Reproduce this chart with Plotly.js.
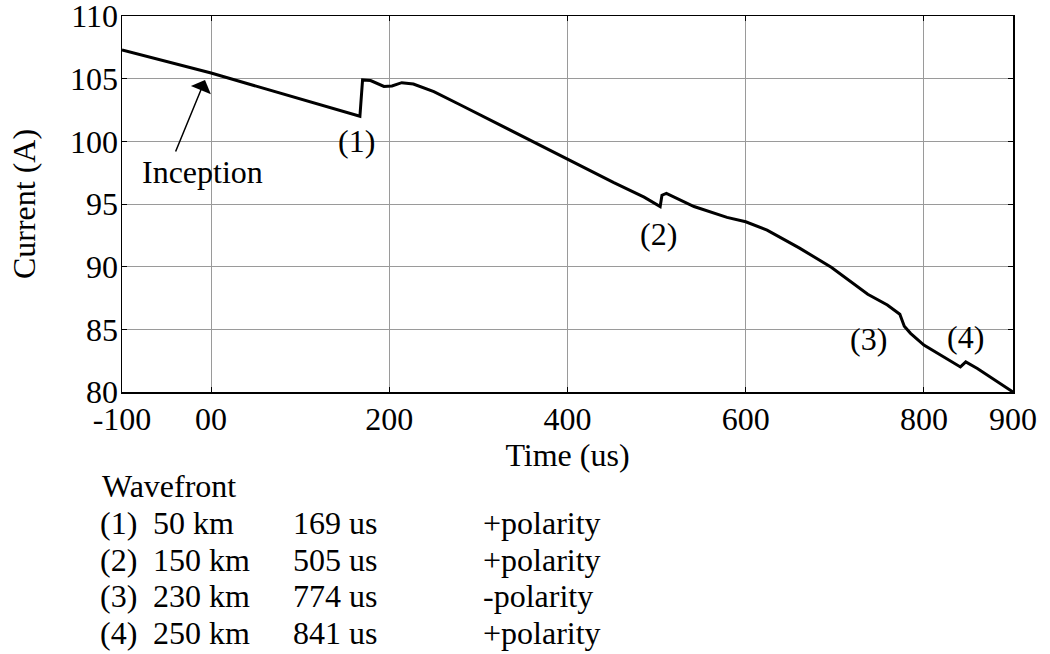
<!DOCTYPE html>
<html>
<head>
<meta charset="utf-8">
<script src="https://cdn.plot.ly/plotly-3.0.1.min.js"></script>
<style>html,body{margin:0;padding:0;background:#fff;}#chart{width:1050px;height:654px;}</style>
</head>
<body>
<div id="chart"></div>
<script>
// Current waveform
const timeUs = [-100, 0, 167, 170, 179, 194, 203, 214, 227, 250, 280, 403, 452, 486, 504, 506, 511, 542, 579, 600, 624, 660, 696, 737, 759, 773, 775, 778, 785, 800, 841, 847, 860, 900];
const currentA = [107.3, 105.45, 102.0, 104.9, 104.85, 104.38, 104.42, 104.68, 104.57, 103.96, 102.9, 98.45, 96.7, 95.55, 94.8, 95.7, 95.85, 94.8, 93.93, 93.58, 92.92, 91.5, 89.95, 87.8, 86.94, 86.2, 85.8, 85.25, 84.68, 83.74, 82.0, 82.4, 81.88, 80.0];

// Axis ticks
const xTickVals = [-100, 0, 200, 400, 600, 800, 900];
const xTickText = ['-100', '00', '200', '400', '600', '800', '900'];
const yTickVals = [80, 85, 90, 95, 100, 105, 110];
const yTickText = ['80', '85', '90', '95', '100', '105', '110'];

// Wavefront table
const wfLabels = ['(1)', '(2)', '(3)', '(4)'];
const wfDistance = ['50 km', '150 km', '230 km', '250 km'];
const wfTime = ['169 us', '505 us', '774 us', '841 us'];
const wfPolarity = ['+polarity', '+polarity', '-polarity', '+polarity'];

// Markers on the curve
const markerText = ['(1)', '(2)', '(3)', '(4)'];
const markerX = [163.7, 501.6, 737.3, 847.2];
const markerY = [100.0, 92.57, 84.19, 84.35];

const FONT = '"Liberation Serif", "Times New Roman", Times, serif';
const FS = 32;

// layout geometry
const W = 1050, H = 654;
const mL = 122, mR = 37, mT = 16, mB = 262;
const pw = W - mL - mR, ph = H - mT - mB;
function px2paperX(px) { return (px - mL) / pw; }
function px2paperY(py) { return (H - mB - py) / ph; }

const annotations = [];
markerText.forEach((t, i) => {
  annotations.push({x: markerX[i], y: markerY[i], xref: 'x', yref: 'y', text: t, showarrow: false,
    xanchor: 'center', yanchor: 'middle', font: {family: FONT, size: FS, color: '#000'}});
});
annotations.push({x: -9.1, y: 97.59, xref: 'x', yref: 'y', text: 'Inception', showarrow: false,
  xanchor: 'center', yanchor: 'middle', font: {family: FONT, size: FS, color: '#000'}});
annotations.push({x: -6.85, y: 104.89, xref: 'x', yref: 'y', ax: -40.5, ay: 99.07, axref: 'x', ayref: 'y',
  text: '', showarrow: true, arrowhead: 1, arrowsize: 2.4, arrowwidth: 1.5, arrowcolor: '#000'});

// table
const rowBase = [534, 571, 607, 644];
const colX = [100, 153, 293, 483];
annotations.push({x: px2paperX(102 - 2), y: px2paperY(497 - 11), xref: 'paper', yref: 'paper', text: 'Wavefront',
  showarrow: false, xanchor: 'left', yanchor: 'middle', font: {family: FONT, size: FS, color: '#000'}});
const cols = [wfLabels, wfDistance, wfTime, wfPolarity];
cols.forEach((col, c) => {
  col.forEach((t, r) => {
    annotations.push({x: px2paperX(colX[c] - 2), y: px2paperY(rowBase[r] - 11), xref: 'paper', yref: 'paper', text: t,
      showarrow: false, xanchor: 'left', yanchor: 'middle', font: {family: FONT, size: FS, color: '#000'}});
  });
});

const trace = {x: timeUs, y: currentA, type: 'scatter', mode: 'lines',
  line: {color: '#000', width: 3}, hoverinfo: 'skip', showlegend: false};

const axisCommon = {
  showgrid: true, gridcolor: '#9a9a9a', gridwidth: 1,
  showline: true, linecolor: '#000', linewidth: 1.5, mirror: 'ticks',
  ticks: 'inside', ticklen: 5, tickcolor: '#000', tickwidth: 1,
  zeroline: false, ticklabeloverflow: 'allow',
  tickfont: {family: FONT, size: FS, color: '#000'}
};

const layout = {
  width: W, height: H,
  margin: {l: mL, r: mR, t: mT, b: mB, pad: 0},
  paper_bgcolor: '#fff', plot_bgcolor: '#fff',
  showlegend: false,
  font: {family: FONT, size: FS, color: '#000'},
  xaxis: Object.assign({}, axisCommon, {
    range: [-100, 900], tickmode: 'array', tickvals: xTickVals, ticktext: xTickText,
    ticklabelstandoff: -2,
    title: {text: 'Time (us)', font: {family: FONT, size: FS, color: '#000'}, standoff: 0}
  }),
  yaxis: Object.assign({}, axisCommon, {
    range: [79.999, 110.001], tickmode: 'array', tickvals: yTickVals, ticktext: yTickText,
    ticklabelstandoff: -4,
    title: {text: 'Current (A)', font: {family: FONT, size: FS, color: '#000'}, standoff: 25}
  }),
  annotations: annotations
};

Plotly.newPlot('chart', [trace], layout, {displayModeBar: false, staticPlot: true});
</script>
</body>
</html>
